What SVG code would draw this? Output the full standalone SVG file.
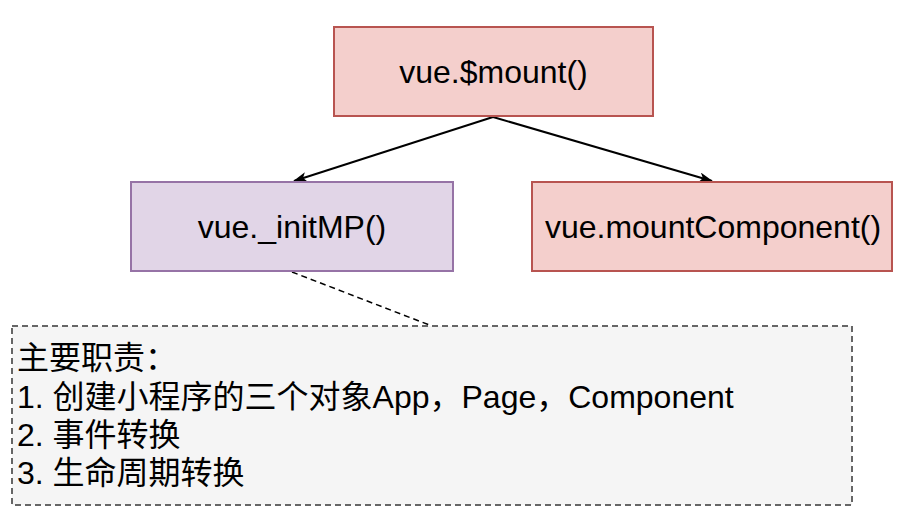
<svg xmlns="http://www.w3.org/2000/svg" width="910" height="528" viewBox="0 0 910 528">
<style>
  text { font-family: "Liberation Sans", Arial, "Noto Sans CJK SC", sans-serif; font-size: 32px; fill: #000; }
  .c { text-anchor: middle; }
  .red { fill: #f4cfcc; stroke: #b85450; stroke-width: 2; }
  .purple { fill: #e1d5e7; stroke: #9673a6; stroke-width: 2; }
  .note { fill: #f5f5f5; stroke: #666666; stroke-width: 2; stroke-dasharray: 6 4; }
  .edge { stroke: #000; stroke-width: 2; fill: none; }
  .dash { stroke: #000; stroke-width: 1.5; fill: none; stroke-dasharray: 6 4; }
</style>
<defs>
  <marker id="arrow" viewBox="0 0 14 10" refX="13" refY="5" markerWidth="14" markerHeight="10" markerUnits="userSpaceOnUse" orient="auto">
    <path d="M0,0 L14,5 L0,10 L3.5,5 Z" fill="#000"/>
  </marker>
</defs>
<rect width="910" height="528" fill="#ffffff"/>
<g id="connectors">
  <line class="edge" x1="493" y1="117" x2="294" y2="181" marker-end="url(#arrow)"/>
  <line class="edge" x1="493" y1="117" x2="712" y2="181" marker-end="url(#arrow)"/>
  <line class="dash" x1="292" y1="272" x2="432" y2="326"/>
</g>
<g id="node-mount">
  <rect class="red" x="334" y="27" width="319" height="89"/>
  <text class="c" x="493.5" y="83">vue.$mount()</text>
</g>
<g id="node-initMP">
  <rect class="purple" x="131" y="182" width="322" height="89"/>
  <text class="c" x="292" y="238">vue._initMP()</text>
</g>
<g id="node-mountComponent">
  <rect class="red" x="532" y="182" width="360" height="89"/>
  <text class="c" x="713" y="238">vue.mountComponent()</text>
</g>
<g id="node-note">
  <rect class="note" x="12" y="326" width="840" height="179"/>
  <text x="17" y="369">主要职责：</text>
  <text x="17" y="407.5">1. 创建小程序的三个对象App，Page，Component</text>
  <text x="17" y="446">2. 事件转换</text>
  <text x="17" y="484">3. 生命周期转换</text>
</g>
</svg>
